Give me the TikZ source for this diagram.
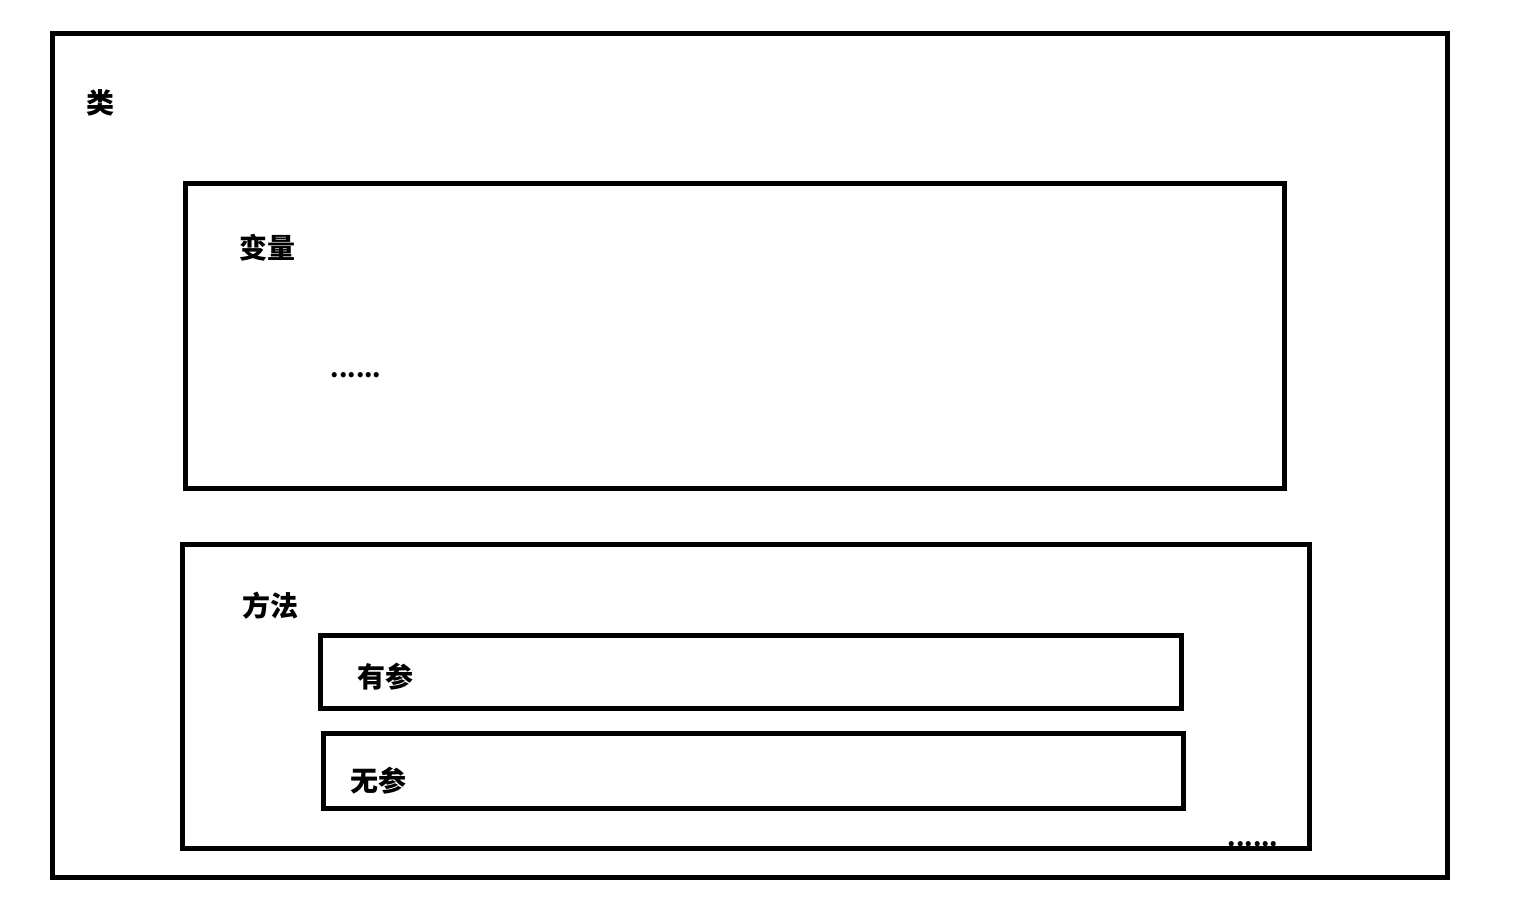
\documentclass[tikz,border=0pt]{standalone}
\usepackage{fontspec}
\setmainfont{Noto Sans CJK SC}
\begin{document}
\begin{tikzpicture}[x=1pt,y=-1pt,
  box/.style={draw=black,line width=5pt,rectangle,inner sep=0pt,outer sep=0pt},
  lbl/.style={font=\fontsize{28}{32}\selectfont\bfseries,inner sep=0pt,anchor=center},
  dots/.style={font=\fontsize{24}{28}\selectfont\bfseries,inner sep=0pt,anchor=center}]
\useasboundingbox (0,0) rectangle (1514,918);
\node[box,minimum width=1395pt,minimum height=844pt] (outer) at (749.5,455) {};
\node[box,minimum width=1099pt,minimum height=305pt] (var) at (734.5,335.5) {};
\node[box,minimum width=1127pt,minimum height=304pt] (meth) at (745.5,696) {};
\node[box,minimum width=861pt,minimum height=73pt] (youcan) at (750.5,671.5) {};
\node[box,minimum width=860pt,minimum height=75pt] (wucan) at (753,770.5) {};
\node[lbl] (tlei) at (100,103) {类};
\node[lbl] (tvar) at (267,248) {变量};
\node[dots] (tdots1) at (356,375) {......};
\node[lbl] (tmeth) at (270,606) {方法};
\node[lbl] (tyou) at (385,677) {有参};
\node[lbl] (twu) at (378,781) {无参};
\node[dots] (tdots2) at (1253,844) {......};
\end{tikzpicture}
\end{document}
